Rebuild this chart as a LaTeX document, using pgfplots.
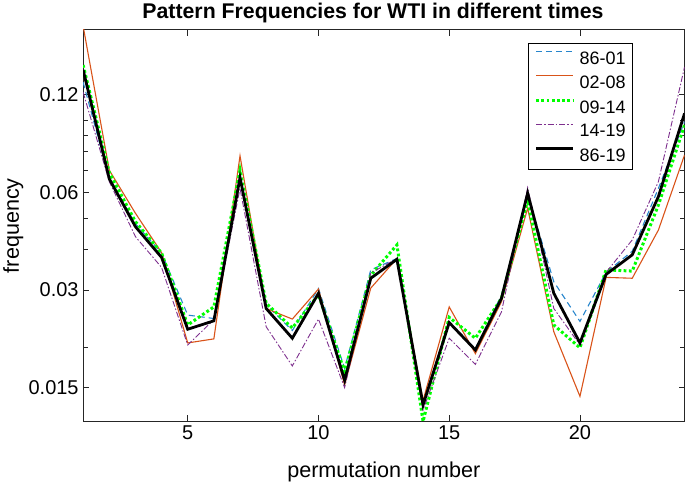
\documentclass[border=0pt]{standalone}
\usepackage{pgfplots}
\usepackage{pgfplotstable}
\pgfplotsset{compat=1.18}
\usepackage{fontspec}
\setmainfont{Liberation Sans}

\definecolor{mblue}{rgb}{0.15,0.52,0.80}
\definecolor{morange}{rgb}{0.85,0.325,0.098}
\definecolor{mgreen}{rgb}{0,1,0}
\definecolor{mpurple}{rgb}{0.494,0.184,0.556}
\definecolor{axgray}{rgb}{0.15,0.15,0.15}

% pattern frequencies, columns = periods
\pgfplotstableread{
x  a      b      c      d      e
1  0.131  0.195  0.148  0.122  0.143
2  0.066  0.0702 0.069  0.0647 0.066
3  0.048  0.0517 0.0487 0.0438 0.047
4  0.039  0.0391 0.039  0.0352 0.0378
5  0.0251 0.0206 0.0234 0.0203 0.0227
6  0.0245 0.0212 0.0266 0.0243 0.0241
7  0.068  0.0777 0.0702 0.0617 0.0666
8  0.027  0.0263 0.0273 0.0231 0.0263
9  0.0225 0.0244 0.0229 0.0175 0.0213
10 0.0303 0.0302 0.029  0.0244 0.0293
11 0.0172 0.0153 0.0168 0.0150 0.0158
12 0.0346 0.0304 0.0333 0.0338 0.0326
13 0.0375 0.0375 0.0413 0.0375 0.0373
14 0.0135 0.0137 0.0118 0.0128 0.01327
15 0.0236 0.0266 0.0247 0.0213 0.0238
16 0.0198 0.0191 0.0213 0.0177 0.0196
17 0.0289 0.0276 0.0283 0.0257 0.0283
18 0.059  0.0536 0.0568 0.062  0.0596
19 0.0318 0.0223 0.0234 0.0263 0.0293
20 0.0240 0.0141 0.0199 0.0203 0.0206
21 0.034  0.0328 0.0346 0.034  0.0335
22 0.0395 0.0326 0.0343 0.0428 0.0385
23 0.0617 0.0459 0.0548 0.0647 0.0582
24 0.099  0.0782 0.0968 0.146  0.105
}\freqs

\begin{document}
\begin{tikzpicture}
\begin{axis}[
    width=602pt, height=392pt, scale only axis,
    ymode=log,
    xmin=1, xmax=24, ymin=0.0118, ymax=0.19,
    xtick={5,10,15,20},
    xticklabels={5,10,15,20},
    ytick={0.015,0.03,0.06,0.12},
    yticklabels={0.015,0.03,0.06,0.12},
    minor ytick={0.02,0.04,0.05,0.07,0.08,0.09,0.1},
    tick align=inside,
    major tick length=6pt, minor tick length=5pt,
    tick style={axgray, line width=0.7pt},
    axis line style={axgray, line width=0.9pt},
    ticklabel style={font=\fontsize{20}{22}\selectfont},
    xticklabel style={yshift=-1pt},
    yticklabel style={xshift=-1pt},
    xlabel={permutation number}, ylabel={frequency},
    label style={font=\fontsize{21.6}{24}\selectfont},
    xlabel style={at={(axis description cs:0.5,-0.143)}, anchor=base},
    ylabel style={at={(axis description cs:-0.116,0.5)}, anchor=center},
    title={Pattern Frequencies for WTI in different times},
    title style={font=\bfseries\fontsize{21.3}{24}\selectfont,
        at={(axis description cs:0.482,1.013)}, anchor=base},
    legend style={at={(axis description cs:0.9136,0.9668)}, anchor=north east,
        draw=black, line width=0.8pt, font=\fontsize{18}{20}\selectfont,
        nodes={inner sep=0pt, text height=12.8pt, text depth=0pt},
        row sep=10.5pt, column sep=5pt, inner xsep=6.5pt, inner ysep=8pt},
    legend cell align=left,
    legend image code/.code={\draw[#1] (0pt,6.4pt) -- (37pt,6.4pt);},
]
\addplot[mblue, line width=1.1pt, dash pattern=on 6pt off 4pt] table[x=x,y=a] {\freqs};
\addlegendentry{86-01}
\addplot[morange, line width=1.1pt] table[x=x,y=b] {\freqs};
\addlegendentry{02-08}
\addplot[mgreen, line width=3pt, dash pattern=on 2.8pt off 2.4pt] table[x=x,y=c] {\freqs};
\addlegendentry{09-14}
\addplot[mpurple, line width=0.9pt, dash pattern=on 6pt off 2pt on 1.5pt off 2pt] table[x=x,y=d] {\freqs};
\addlegendentry{14-19}
\addplot[black, line width=2.8pt] table[x=x,y=e] {\freqs};
\addlegendentry{86-19}
\end{axis}
\end{tikzpicture}
\end{document}
